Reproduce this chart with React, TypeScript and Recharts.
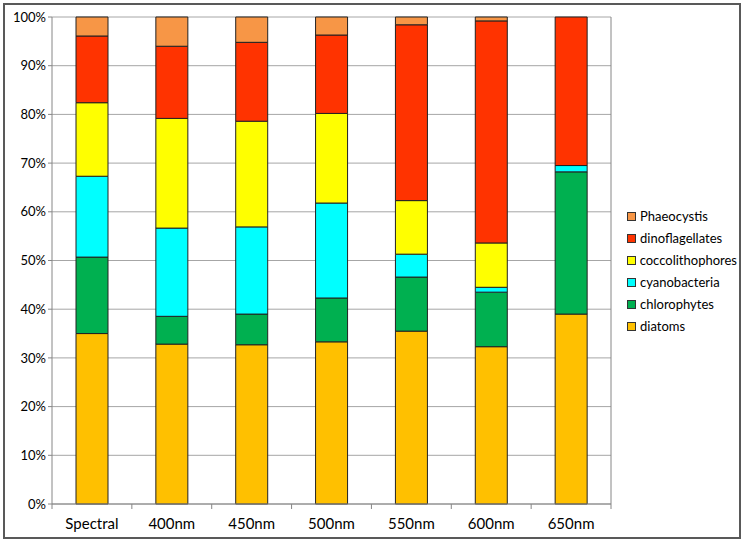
import React from "react";
import {
  BarChart,
  Bar,
  XAxis,
  YAxis,
  CartesianGrid,
} from "recharts";

const categories = ["Spectral", "400nm", "450nm", "500nm", "550nm", "600nm", "650nm"];

const diatoms = [35.0, 32.8, 32.7, 33.3, 35.5, 32.3, 39.0];
const chlorophytes = [15.7, 5.7, 6.3, 9.0, 11.1, 11.2, 29.2];
const cyanobacteria = [16.6, 18.1, 17.9, 19.5, 4.7, 1.0, 1.3];
const coccolithophores = [15.1, 22.5, 21.7, 18.4, 11.0, 9.1, 0];
const dinoflagellates = [13.7, 14.8, 16.2, 16.1, 36.1, 45.6, 30.5];
const phaeocystis = [3.9, 6.0, 5.2, 3.7, 1.6, 0.8, 0];

const yTicks = [0, 0.1, 0.2, 0.3, 0.4, 0.5, 0.6, 0.7, 0.8, 0.9, 1];

// bottom to top in the stack
const series = [
  { key: "diatoms", values: diatoms, color: "#FFC000" },
  { key: "chlorophytes", values: chlorophytes, color: "#00B050" },
  { key: "cyanobacteria", values: cyanobacteria, color: "#00FFFF" },
  { key: "coccolithophores", values: coccolithophores, color: "#FFFF00" },
  { key: "dinoflagellates", values: dinoflagellates, color: "#FF3300" },
  { key: "Phaeocystis", values: phaeocystis, color: "#F79646" },
];

const data = categories.map((name, i) => {
  const row: Record<string, string | number> = { name };
  series.forEach((s) => {
    row[s.key] = s.values[i];
  });
  return row;
});

const FONT = "Lato, 'Open Sans', sans-serif";

// category label plus Excel-style tick marks between categories
function CategoryTick(props: any) {
  const { x, y, width, payload, index } = props;
  const half = width / categories.length / 2;
  return (
    <g>
      <line x1={x - half} x2={x - half} y1={y} y2={y + 5} stroke="#868686" />
      {index === categories.length - 1 && (
        <line x1={x + half} x2={x + half} y1={y} y2={y + 5} stroke="#868686" />
      )}
      <text
        x={x}
        y={y + 25}
        textAnchor="middle"
        fill="#000"
        fontSize={15}
        fontFamily={FONT}
      >
        {payload.value}
      </text>
    </g>
  );
}

function LegendBox() {
  return (
    <div
      style={{
        position: "absolute",
        left: 622,
        top: 200,
        width: 110,
        fontFamily: FONT,
        fontSize: 13,
        color: "#000",
      }}
    >
      {[...series].reverse().map((s) => (
        <div
          key={s.key}
          style={{ display: "flex", alignItems: "center", height: 22 }}
        >
          <span
            style={{
              display: "inline-block",
              width: 7,
              height: 7,
              background: s.color,
              border: "1px solid #333",
              marginRight: 4,
            }}
          />
          {s.key}
        </div>
      ))}
    </div>
  );
}

export default function App() {
  return (
    <div
      style={{
        position: "absolute",
        left: 3,
        top: 3,
        width: 734,
        height: 532,
        border: "2px solid #595959",
        background: "#fff",
      }}
    >
      <BarChart
        width={734}
        height={532}
        data={data}
        stackOffset="expand"
        margin={{ top: 12, right: 127, left: 2, bottom: 2 }}
        barSize={32}
      >
        <CartesianGrid
          vertical={false}
          stroke="#a6a6a6"
          xAxisId="cat"
          yAxisId="left"
        />
        <XAxis
          xAxisId="cat"
          dataKey="name"
          height={31}
          tickSize={0}
          tickMargin={0}
          tickLine={false}
          stroke="#868686"
          interval={0}
          tick={<CategoryTick />}
        />
        <YAxis
          yAxisId="left"
          ticks={yTicks}
          domain={[0, 1]}
          width={45}
          tickSize={4}
          stroke="#868686"
          interval={0}
          tickFormatter={(v: number) => `${Math.round(v * 100)}%`}
          tick={{ fill: "#000", fontSize: 13, fontFamily: FONT }}
        />
        <YAxis
          yAxisId="right"
          orientation="right"
          domain={[0, 1]}
          width={1}
          tick={false}
          tickLine={false}
          stroke="#868686"
        />
        {series.map((s) => (
          <Bar
            key={s.key}
            dataKey={s.key}
            stackId="a"
            xAxisId="cat"
            yAxisId="left"
            fill={s.color}
            stroke="#222"
            strokeWidth={1}
            isAnimationActive={false}
          />
        ))}
      </BarChart>
      <LegendBox />
    </div>
  );
}
